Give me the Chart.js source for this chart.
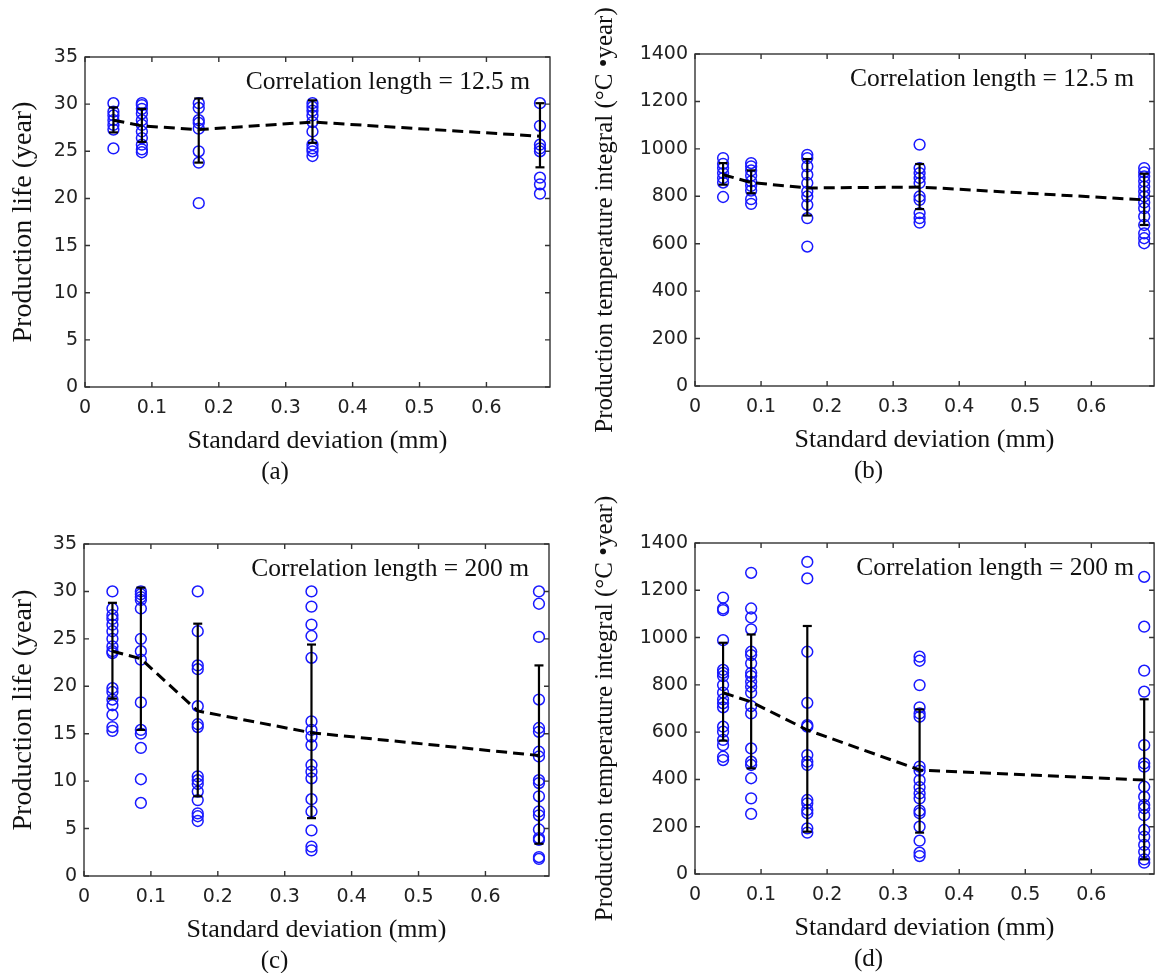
<!DOCTYPE html>
<html>
<head>
<meta charset="utf-8">
<script src="https://cdn.jsdelivr.net/npm/chart.js@4.4.0/dist/chart.umd.min.js"></script>
<style>
  html, body { margin: 0; padding: 0; background: #fff; overflow: hidden; }
  canvas { position: absolute; }
</style>
</head>
<body>
<canvas id="pa" width="580" height="500" style="left:0;top:0"></canvas>
<canvas id="pb" width="581" height="500" style="left:580px;top:0"></canvas>
<canvas id="pc" width="580" height="500" style="left:0;top:487px"></canvas>
<canvas id="pd" width="581" height="500" style="left:580px;top:487px"></canvas>
<script>
// standard deviations (mm) of the five realisation groups
const xs = [0.0425, 0.085, 0.17, 0.34, 0.68];
const xTicks = [0, 0.1, 0.2, 0.3, 0.4, 0.5, 0.6];
const lifeTicks = [0, 5, 10, 15, 20, 25, 30, 35];
const tempTicks = [0, 200, 400, 600, 800, 1000, 1200, 1400];

// (a) production life, correlation length 12.5 m
const lifeA = [
  [30.1, 29.2, 28.8, 28.3, 27.8, 27.3, 25.3],
  [30.1, 29.9, 29.5, 29.0, 28.3, 27.8, 27.1, 26.4, 25.7, 25.2, 24.9],
  [30.1, 29.6, 28.3, 28.0, 27.4, 25.0, 23.8, 19.5],
  [30.1, 29.7, 29.3, 28.8, 28.1, 27.1, 25.7, 25.3, 25.0, 24.5],
  [30.1, 27.7, 25.7, 25.3, 25.0, 22.2, 21.5, 20.5]
];
const meanA = [28.3, 27.7, 27.3, 28.1, 26.6];
const hiA = [29.65, 29.5, 30.6, 30.4, 30.1];
const loA = [27.0, 26.0, 23.8, 25.9, 23.3];

// (b) temperature integral, correlation length 12.5 m
const tempB = [
  [961, 937, 919, 898, 877, 858, 797],
  [940, 926, 909, 887, 863, 844, 824, 788, 768],
  [975, 961, 926, 891, 856, 820, 799, 764, 708, 588],
  [1018, 919, 898, 877, 856, 799, 785, 729, 708, 689],
  [919, 901, 884, 863, 841, 820, 799, 774, 750, 715, 679, 644, 623, 602]
];
const meanB = [891, 858, 835, 839, 785];
const hiB = [940, 909, 957, 936, 895];
const loB = [849, 813, 719, 746, 679];

// (c) production life, correlation length 200 m
const lifeC = [
  [30.0, 28.2, 27.5, 27.1, 26.5, 25.8, 25.0, 24.2, 23.7, 23.5, 19.8, 19.4, 18.6, 18.0, 17.0, 15.7, 15.3],
  [30.0, 29.7, 29.4, 29.1, 28.2, 25.0, 23.7, 22.8, 18.3, 15.4, 15.0, 13.5, 10.2, 7.7],
  [30.0, 25.8, 22.2, 21.8, 17.9, 16.0, 15.7, 10.5, 10.1, 9.7, 8.9, 8.0, 6.6, 6.3, 5.8],
  [30.0, 28.4, 26.5, 25.3, 23.0, 16.3, 15.4, 14.7, 13.8, 11.7, 11.0, 10.3, 8.1, 6.8, 4.8, 3.1, 2.7],
  [30.0, 28.7, 25.2, 18.6, 15.6, 15.2, 13.1, 12.6, 10.1, 9.8, 8.4, 6.8, 6.4, 4.9, 4.0, 3.8, 2.0, 1.8]
];
const meanC = [23.7, 22.9, 17.4, 15.1, 12.7];
const hiC = [28.8, 30.4, 26.6, 24.4, 22.2];
const loC = [18.7, 15.4, 8.4, 6.1, 3.4];

// (d) temperature integral, correlation length 200 m
const tempD = [
  [1169, 1123, 1116, 989, 863, 851, 837, 799, 767, 739, 722, 705, 623, 602, 567, 545, 496, 482],
  [1274, 1123, 1085, 1035, 940, 926, 891, 851, 837, 813, 792, 767, 710, 679, 531, 475, 461, 405, 320, 254],
  [1320, 1250, 940, 724, 630, 623, 503, 475, 461, 313, 299, 271, 257, 193, 175],
  [919, 902, 799, 705, 679, 665, 454, 437, 397, 367, 341, 320, 268, 257, 200, 141, 90, 76],
  [1257, 1046, 860, 771, 545, 468, 454, 369, 327, 292, 278, 249, 186, 158, 123, 94, 62, 48]
];
const meanD = [767, 728, 609, 440, 397];
const hiD = [978, 1013, 1049, 696, 739];
const loD = [564, 447, 179, 175, 62];

const SERIF = '"Liberation Serif", "Times New Roman", serif';
const SANS = '"DejaVu Sans", sans-serif';

// box with inward ticks on all four sides + the corner note
const frame = {
  id: 'frame',
  afterDatasetsDraw(chart, args, opts) {
    const { ctx, chartArea: a, scales: { x, y } } = chart;
    ctx.save();
    ctx.strokeStyle = '#333';
    ctx.lineWidth = 1.4;
    ctx.strokeRect(a.left, a.top, a.width, a.height);
    ctx.beginPath();
    x.ticks.forEach(t => {
      const px = x.getPixelForValue(t.value);
      ctx.moveTo(px, a.bottom); ctx.lineTo(px, a.bottom - 5);
      ctx.moveTo(px, a.top); ctx.lineTo(px, a.top + 5);
    });
    y.ticks.forEach(t => {
      const py = y.getPixelForValue(t.value);
      ctx.moveTo(a.left, py); ctx.lineTo(a.left + 5, py);
      ctx.moveTo(a.right, py); ctx.lineTo(a.right - 5, py);
    });
    ctx.stroke();
    ctx.fillStyle = '#111';
    ctx.font = '25.5px ' + SERIF;
    ctx.textAlign = 'right';
    ctx.textBaseline = 'middle';
    ctx.fillText(opts.note, a.right - 20, a.top + 25);
    ctx.restore();
  }
};

function makePanel(id, p) {
  const scatter = {
    data: p.cols.flatMap((vals, i) => vals.map(v => ({ x: xs[i], y: v }))),
    borderColor: 'rgb(25,25,255)',
    backgroundColor: 'rgba(0,0,0,0)',
    pointRadius: 5.4,
    pointBorderWidth: 1.5,
    order: 3
  };
  const bars = xs.map((x, i) => ({
    data: [{ x, y: p.lo[i] }, { x, y: p.hi[i] }],
    showLine: true,
    borderColor: '#000',
    borderWidth: 2.2,
    pointStyle: 'line',
    pointRadius: 4.5,
    pointBorderWidth: 2.2,
    pointBorderColor: '#000',
    order: 2
  }));
  const mean = {
    data: xs.map((x, i) => ({ x, y: p.mean[i] })),
    showLine: true,
    borderColor: '#000',
    borderWidth: 3,
    borderDash: [11, 6],
    pointRadius: 0,
    order: 1
  };

  new Chart(document.getElementById(id), {
    type: 'scatter',
    data: { datasets: [scatter, ...bars, mean] },
    options: {
      responsive: false,
      animation: false,
      events: [],
      layout: { padding: p.pad },
      scales: {
        x: {
          type: 'linear', min: 0, max: 0.695,
          afterBuildTicks: s => { s.ticks = xTicks.map(v => ({ value: v })); },
          afterFit: s => { s.height = 70; },
          grid: { display: false, drawTicks: false },
          border: { display: false },
          ticks: { font: { family: SANS, size: 19 }, color: '#222', padding: 10, callback: v => String(v), maxRotation: 0 },
          title: { display: true, text: 'Standard deviation (mm)', font: { family: SERIF, size: 26 }, color: '#111', padding: { top: 0, bottom: 0 } }
        },
        y: {
          type: 'linear', min: 0, max: p.yTicks[p.yTicks.length - 1],
          afterBuildTicks: s => { s.ticks = p.yTicks.map(v => ({ value: v })); },
          afterFit: s => { s.width = p.axisW; },
          grid: { display: false, drawTicks: false },
          border: { display: false },
          ticks: { font: { family: SANS, size: 19 }, color: '#222', padding: 7, callback: v => String(v) },
          title: { display: true, text: p.yTitle, font: { family: SERIF, size: p.titleSize }, color: '#111', padding: { top: p.titlePad, bottom: 0 } }
        }
      },
      plugins: {
        legend: { display: false },
        tooltip: { enabled: false },
        title: { display: true, position: 'bottom', text: p.label, font: { family: SERIF, size: 25, weight: 'normal' }, color: '#111', padding: { top: 0, bottom: 0 } },
        frame: { note: p.note }
      }
    },
    plugins: [frame]
  });
}

makePanel('pa', {
  cols: lifeA, mean: meanA, hi: hiA, lo: loA, yTicks: lifeTicks,
  yTitle: 'Production life (year)', note: 'Correlation length = 12.5 m', label: '(a)',
  axisW: 85, titleSize: 28, titlePad: 7, pad: { left: 0, top: 57, right: 30, bottom: 13 }
});
makePanel('pb', {
  cols: tempB, mean: meanB, hi: hiB, lo: loB, yTicks: tempTicks,
  yTitle: 'Production temperature integral (\u00B0C \u2022year)', note: 'Correlation length = 12.5 m', label: '(b)',
  axisW: 115, titleSize: 25, titlePad: 10, pad: { left: 0, top: 54, right: 4, bottom: 14 }
});
makePanel('pc', {
  cols: lifeC, mean: meanC, hi: hiC, lo: loC, yTicks: lifeTicks,
  yTitle: 'Production life (year)', note: 'Correlation length = 200 m', label: '(c)',
  axisW: 84, titleSize: 28, titlePad: 7, pad: { left: 0, top: 57, right: 31, bottom: 11 }
});
makePanel('pd', {
  cols: tempD, mean: meanD, hi: hiD, lo: loD, yTicks: tempTicks,
  yTitle: 'Production temperature integral (\u00B0C \u2022year)', note: 'Correlation length = 200 m', label: '(d)',
  axisW: 115, titleSize: 25, titlePad: 10, pad: { left: 0, top: 56, right: 4, bottom: 13 }
});
</script>
</body>
</html>
